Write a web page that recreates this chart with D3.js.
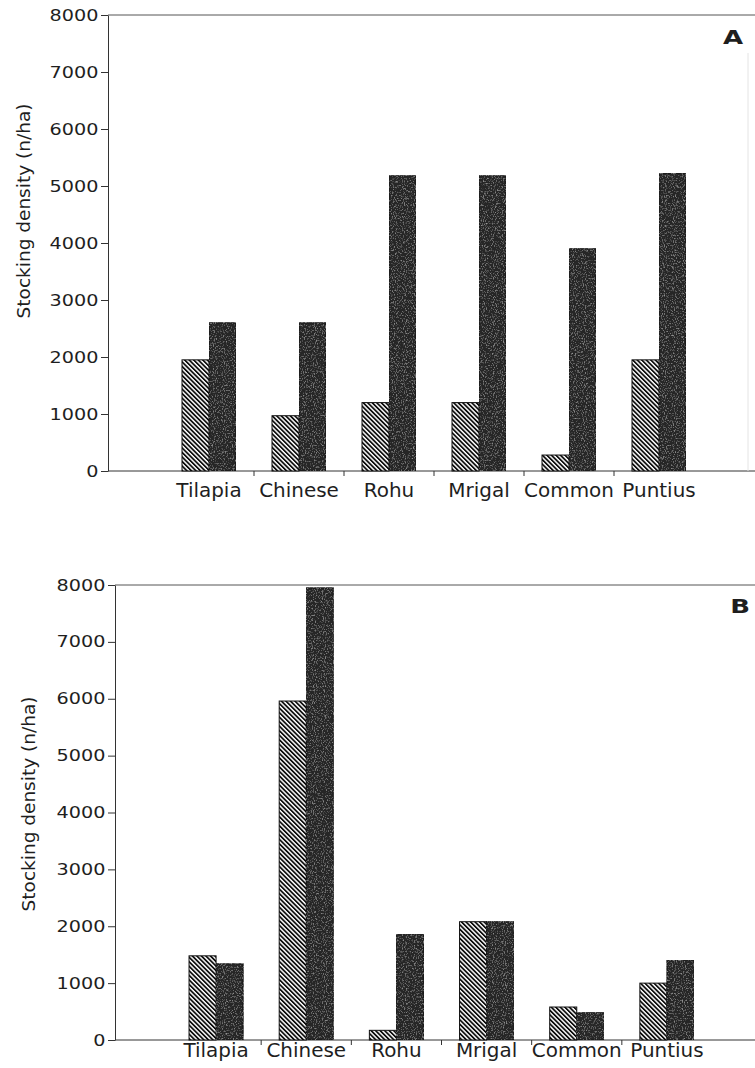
<!DOCTYPE html>
<html>
<head>
<meta charset="utf-8">
<script src="https://cdn.jsdelivr.net/npm/d3@7"></script>
<style>
  html, body { margin: 0; padding: 0; background: #fff; }
  svg { display: block; }
</style>
</head>
<body>
<svg id="fig" width="755" height="1068"></svg>
<script>
// Species groups along the x axis
const categories = ["Tilapia", "Chinese", "Rohu", "Mrigal", "Common", "Puntius"];

// Stocking density (n/ha), panel A
const densityA_hatched = [1950, 970, 1200, 1200, 280, 1950];
const densityA_dark    = [2600, 2600, 5180, 5180, 3900, 5220];

// Stocking density (n/ha), panel B
const densityB_hatched = [1480, 5960, 170, 2080, 580, 1000];
const densityB_dark    = [1340, 7950, 1860, 2080, 480, 1400];

// Y axis ticks
const yTicks = [0, 1000, 2000, 3000, 4000, 5000, 6000, 7000, 8000];
const yMax = 8000;
const yTitle = "Stocking density (n/ha)";

const W = 755;
const FONT = "'DejaVu Sans', 'Liberation Sans', sans-serif";
const INK = "#1e1e1e";

const svg = d3.select("#fig");
svg.append("rect").attr("width", W).attr("height", 1068).attr("fill", "#fff");

const defs = svg.append("defs");

// Diagonal hatch fill for the first series
const hatch = defs.append("pattern")
  .attr("id", "hatch")
  .attr("patternUnits", "userSpaceOnUse")
  .attr("width", 3.2).attr("height", 3.2)
  .attr("patternTransform", "rotate(-45)");
hatch.append("rect").attr("width", 3.2).attr("height", 3.2).attr("fill", "#fff");
hatch.append("rect").attr("width", 1.75).attr("height", 3.2).attr("fill", "#0d0d0d");

// Printed-ink grain over the solid bars
const grain = defs.append("filter")
  .attr("id", "grain")
  .attr("x", 0).attr("y", 0).attr("width", 1).attr("height", 1);
grain.append("feTurbulence")
  .attr("type", "fractalNoise").attr("baseFrequency", "0.9 0.6")
  .attr("numOctaves", 2).attr("seed", 7).attr("result", "noise");
grain.append("feColorMatrix")
  .attr("in", "noise").attr("type", "matrix")
  .attr("values", "0 0 0 0 1  0 0 0 0 1  0 0 0 0 1  0.8 0 0 0 -0.42")
  .attr("result", "specks");
grain.append("feComposite")
  .attr("in", "specks").attr("in2", "SourceGraphic")
  .attr("operator", "in").attr("result", "clipped");
const merge = grain.append("feMerge");
merge.append("feMergeNode").attr("in", "SourceGraphic");
merge.append("feMergeNode").attr("in", "clipped");

const panels = [
  { letter: "A", hatched: densityA_hatched, dark: densityA_dark,
    axisX: 108, y0: 471, yTop: 15, band: [164, 704],
    labelY: 497, titleX: 23, titleY: 211, letterX: 743, letterY: 44, rightEdge: true },
  { letter: "B", hatched: densityB_hatched, dark: densityB_dark,
    axisX: 115, y0: 1040, yTop: 585, band: [171, 712],
    labelY: 1057, titleX: 28, titleY: 804, letterX: 750, letterY: 613, rightEdge: false }
];

panels.forEach(p => {
  const g = svg.append("g").attr("class", "panel-" + p.letter);

  const y = d3.scaleLinear().domain([0, yMax]).range([p.y0, p.yTop]);
  const x = d3.scaleBand().domain(categories).range(p.band)
    .paddingInner(0.4).paddingOuter(0.2);
  const half = x.bandwidth() / 2;

  // frame: top rule and baseline running off to the right
  g.append("line")
    .attr("x1", p.axisX).attr("x2", W)
    .attr("y1", y(yMax)).attr("y2", y(yMax))
    .attr("stroke", "#555").attr("stroke-width", 1);
  g.append("line")
    .attr("x1", p.axisX).attr("x2", W)
    .attr("y1", y(0)).attr("y2", y(0))
    .attr("stroke", "#333").attr("stroke-width", 1);
  if (p.rightEdge) {
    g.append("line")
      .attr("x1", 748).attr("x2", 748)
      .attr("y1", y(yMax) + 38).attr("y2", y(0))
      .attr("stroke", "#e4e4e4").attr("stroke-width", 1);
  }

  // y axis
  const yAxis = g.append("g")
    .attr("transform", `translate(${p.axisX},0)`)
    .call(d3.axisLeft(y).tickValues(yTicks).tickSize(7).tickSizeOuter(0)
      .tickPadding(1).tickFormat(d3.format("d")));
  yAxis.select(".domain").attr("stroke", "#333");
  yAxis.selectAll(".tick line").attr("stroke", "#333");
  yAxis.selectAll(".tick text")
    .attr("fill", INK)
    .style("font-family", FONT)
    .style("font-size", "16px")
    .attr("transform", "scale(1.2,1)");

  // y axis title
  g.append("text")
    .attr("transform", `translate(${p.titleX},${p.titleY}) rotate(-90)`)
    .attr("text-anchor", "middle")
    .attr("dominant-baseline", "central")
    .attr("fill", INK)
    .style("font-family", FONT)
    .style("font-size", "18.5px")
    .text(yTitle);

  // separators between species groups
  const seps = categories.slice(0, -1).map(c => x(c) + x.bandwidth() + (x.step() - x.bandwidth()) / 2);
  g.selectAll("line.sep").data(seps).join("line")
    .attr("class", "sep")
    .attr("x1", d => d).attr("x2", d => d)
    .attr("y1", y(0)).attr("y2", y(0) + 5)
    .attr("stroke", "#333").attr("stroke-width", 1);

  // category labels
  g.selectAll("text.cat").data(categories).join("text")
    .attr("class", "cat")
    .attr("transform", d => `translate(${x(d) + half},${p.labelY}) scale(1.05,1)`)
    .attr("text-anchor", "middle")
    .attr("fill", INK)
    .style("font-family", FONT)
    .style("font-size", "19px")
    .text(d => d);

  // hatched bars
  g.selectAll("rect.hatched").data(p.hatched).join("rect")
    .attr("class", "hatched")
    .attr("x", (d, i) => x(categories[i]))
    .attr("y", d => y(d))
    .attr("width", half)
    .attr("height", d => y(0) - y(d))
    .attr("fill", "url(#hatch)")
    .attr("stroke", "#111").attr("stroke-width", 1);

  // dark bars
  g.selectAll("rect.dark").data(p.dark).join("rect")
    .attr("class", "dark")
    .attr("x", (d, i) => x(categories[i]) + half)
    .attr("y", d => y(d))
    .attr("width", half)
    .attr("height", d => y(0) - y(d))
    .attr("fill", "#262626")
    .attr("stroke", "#151515").attr("stroke-width", 1)
    .attr("filter", "url(#grain)");

  // panel letter
  g.append("text")
    .attr("transform", `translate(${p.letterX},${p.letterY}) scale(1.3,1)`)
    .attr("text-anchor", "end")
    .attr("fill", INK)
    .style("font-family", FONT)
    .style("font-weight", "bold")
    .style("font-size", "20px")
    .text(p.letter);
});
</script>
</body>
</html>
